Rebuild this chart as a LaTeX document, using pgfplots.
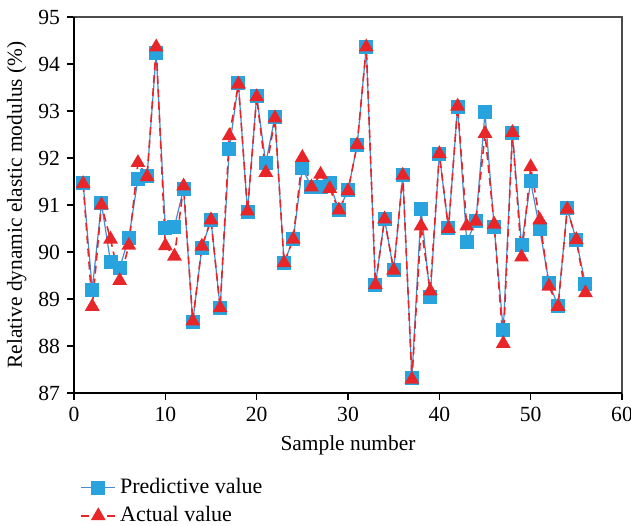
\documentclass[border=0pt]{standalone}
\usepackage{pgfplots}
\pgfplotsset{compat=1.18}
\usepackage{fontspec}
\setmainfont{Liberation Serif}
\definecolor{predblue}{RGB}{41,163,221}
\definecolor{predline}{RGB}{70,140,205}
\definecolor{actred}{RGB}{232,38,42}
\begin{document}
\begin{tikzpicture}
\begin{axis}[
  name=main,
  width=274pt, height=188pt, scale only axis,
  xmin=0, xmax=60, ymin=87, ymax=95,
  xtick={0,10,...,60}, ytick={87,88,...,95},
  tick align=outside, tick pos=left,
  major tick length=3.5pt,
  axis line style={black!70, line width=0.6pt},
  tick style={black, line width=0.6pt},
  ticklabel style={font=\fontsize{10.8}{12}\selectfont},
  /pgf/number format/assume math mode=true,
  xlabel={Sample number},
  ylabel={Relative dynamic elastic modulus (\%)},
  label style={font=\fontsize{10.7}{13}\selectfont},
  xlabel style={yshift=0pt},
  ylabel style={yshift=-1pt},
  legend style={at={(0.0,-0.205)}, anchor=north west, draw=none, fill=none,
    font=\fontsize{11}{13}\selectfont, row sep=1pt,
    legend cell align=left},
  clip=false,
]
\draw[black, line width=0.9pt] (rel axis cs:0,1) -- (rel axis cs:0,0) -- (rel axis cs:1,0);
\addplot[predline, line width=0.6pt, mark=square*, mark size=3.2pt,
  mark options={solid, fill=predblue, draw=predblue}] coordinates {
(1,91.46)(2,89.20)(3,91.04)(4,89.79)(5,89.66)(6,90.30)(7,91.55)(8,91.61)
(9,94.23)(10,90.52)(11,90.54)(12,91.35)(13,88.51)(14,90.09)(15,90.68)(16,88.81)
(17,92.19)(18,93.59)(19,90.86)(20,93.32)(21,91.89)(22,92.88)(23,89.77)(24,90.27)
(25,91.78)(26,91.39)(27,91.39)(28,91.46)(29,90.89)(30,91.31)(31,92.27)(32,94.36)
(33,89.29)(34,90.70)(35,89.61)(36,91.63)(37,87.32)(38,90.92)(39,89.04)(40,92.08)
(41,90.50)(42,93.09)(43,90.22)(44,90.65)(45,92.97)(46,90.54)(47,88.33)(48,92.53)
(49,90.15)(50,91.50)(51,90.48)(52,89.35)(53,88.85)(54,90.93)(55,90.25)(56,89.31)
};
\addlegendentry{Predictive value}
\addplot[actred, line width=0.8pt, dashed, dash pattern=on 4pt off 2.5pt,
  mark=triangle*, mark size=3.5pt,
  mark options={solid, fill=actred, draw=actred}] coordinates {
(1,91.45)(2,88.84)(3,91.00)(4,90.27)(5,89.39)(6,90.14)(7,91.90)(8,91.60)
(9,94.36)(10,90.13)(11,89.91)(12,91.40)(13,88.53)(14,90.12)(15,90.68)(16,88.81)
(17,92.47)(18,93.57)(19,90.87)(20,93.30)(21,91.69)(22,92.85)(23,89.77)(24,90.27)
(25,92.01)(26,91.38)(27,91.65)(28,91.35)(29,90.89)(30,91.30)(31,92.28)(32,94.36)
(33,89.30)(34,90.70)(35,89.61)(36,91.63)(37,87.29)(38,90.55)(39,89.17)(40,92.09)
(41,90.50)(42,93.10)(43,90.55)(44,90.65)(45,92.52)(46,90.59)(47,88.05)(48,92.54)
(49,89.89)(50,91.81)(51,90.68)(52,89.27)(53,88.84)(54,90.91)(55,90.26)(56,89.13)
};
\addlegendentry{Actual value}
\end{axis}
\pgfresetboundingbox
\path[use as bounding box] ([xshift=-37pt,yshift=-66.5pt]main.south west)
  rectangle ([xshift=4.5pt,yshift=8.5pt]main.north east);
\end{tikzpicture}
\end{document}
